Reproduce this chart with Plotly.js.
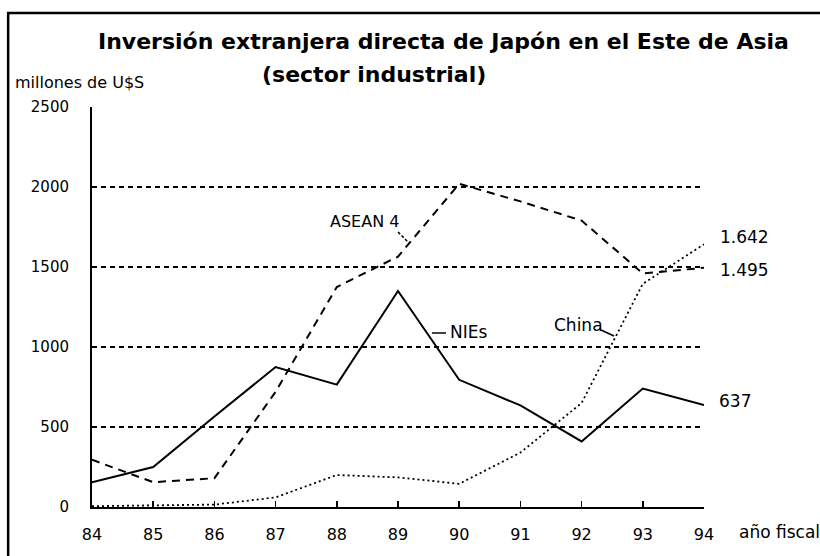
<!DOCTYPE html>
<html>
<head>
<meta charset="utf-8">
<script src="https://cdn.plot.ly/plotly-3.0.1.min.js"></script>
<style>html,body{margin:0;padding:0;background:#fff;}#chart{width:820px;height:556px;}</style>
</head>
<body>
<div id="chart"></div>
<script>
var years = [84, 85, 86, 87, 88, 89, 90, 91, 92, 93, 94];
var yearLabels = ["84", "85", "86", "87", "88", "89", "90", "91", "92", "93", "94"];
var niesValues = [155, 250, 565, 875, 765, 1350, 795, 635, 410, 740, 637];
var aseanValues = [295, 155, 180, 720, 1375, 1565, 2020, 1910, 1790, 1460, 1495];
var chinaValues = [5, 10, 15, 60, 200, 185, 145, 340, 650, 1395, 1642];
var yTicks = [0, 500, 1000, 1500, 2000, 2500];

var F = "DejaVu Sans, Arial, sans-serif";

var traces = [
  {x: years, y: aseanValues, mode: "lines", name: "ASEAN 4",
   line: {color: "#000", width: 2, dash: "8px,6px"}},
  {x: years, y: chinaValues, mode: "lines", name: "China",
   line: {color: "#000", width: 1.8, dash: "2px,3px"}},
  {x: years, y: niesValues, mode: "lines", name: "NIEs",
   line: {color: "#000", width: 2}}
];

function ann(text, x, y, xa, size, bold) {
  return {text: text, xref: "paper", yref: "paper", x: x, y: y, xanchor: xa, yanchor: "middle",
          showarrow: false, font: {family: F, size: size, color: "#000", weight: bold ? "bold" : "normal"}};
}

var layout = {
  width: 820, height: 556,
  margin: {l: 92, r: 116, t: 107, b: 49},
  paper_bgcolor: "#fff", plot_bgcolor: "#fff",
  showlegend: false,
  xaxis: {range: [84, 94], tickvals: years, ticktext: yearLabels, showgrid: false, zeroline: false,
          showline: true, linecolor: "#000", linewidth: 2, ticks: "inside", ticklen: 6, tickwidth: 1.5,
          tickcolor: "#000", tickfont: {family: F, size: 16, color: "#000"}, ticklabelstandoff: 12},
  yaxis: {range: [0, 2500], tickvals: yTicks, showgrid: true, gridcolor: "#000", gridwidth: 1.5,
          griddash: "5px,4px", zeroline: false, showline: true, linecolor: "#000", linewidth: 2,
          ticks: "", tickfont: {family: F, size: 15, color: "#000"}, ticklabelstandoff: 18},
  annotations: [
    ann("Inversión extranjera directa de Japón en el Este de Asia", 0.575, 1.1625, "center", 22, true),
    ann("(sector industrial)", 0.2745, 1.08, "left", 22, true),
    ann("millones de U$S", -0.129, 1.0625, "left", 16, false),
    ann("año fiscal", 1.054, -0.0625, "left", 17, false),
    ann("1.642", 1.023, 0.675, "left", 17, false),
    ann("1.495", 1.023, 0.5925, "left", 17, false),
    ann("637", 1.021, 0.265, "left", 17, false),
    ann("ASEAN 4", 0.446, 0.715, "center", 16, false),
    ann("NIEs", 0.5817, 0.4375, "left", 17, false),
    ann("China", 0.7516, 0.455, "left", 17, false)
  ],
  shapes: [
    {type: "rect", xref: "paper", yref: "paper", x0: -0.137, x1: 1.3, y0: -0.3, y1: 1.235,
     line: {color: "#000", width: 2.5}},
    {type: "line", xref: "paper", yref: "paper", x0: 0.5, y0: 0.6875, x1: 0.518, y1: 0.66,
     line: {color: "#000", width: 1.5, dash: "3px,2px"}},
    {type: "line", xref: "paper", yref: "paper", x0: 0.5556, y0: 0.435, x1: 0.5784, y1: 0.435,
     line: {color: "#000", width: 1.5}},
    {type: "line", xref: "paper", yref: "paper", x0: 0.8317, y0: 0.4425, x1: 0.853, y1: 0.4275,
     line: {color: "#000", width: 1.5}}
  ]
};

Plotly.newPlot("chart", traces, layout, {displayModeBar: false, staticPlot: true});
</script>
</body>
</html>
